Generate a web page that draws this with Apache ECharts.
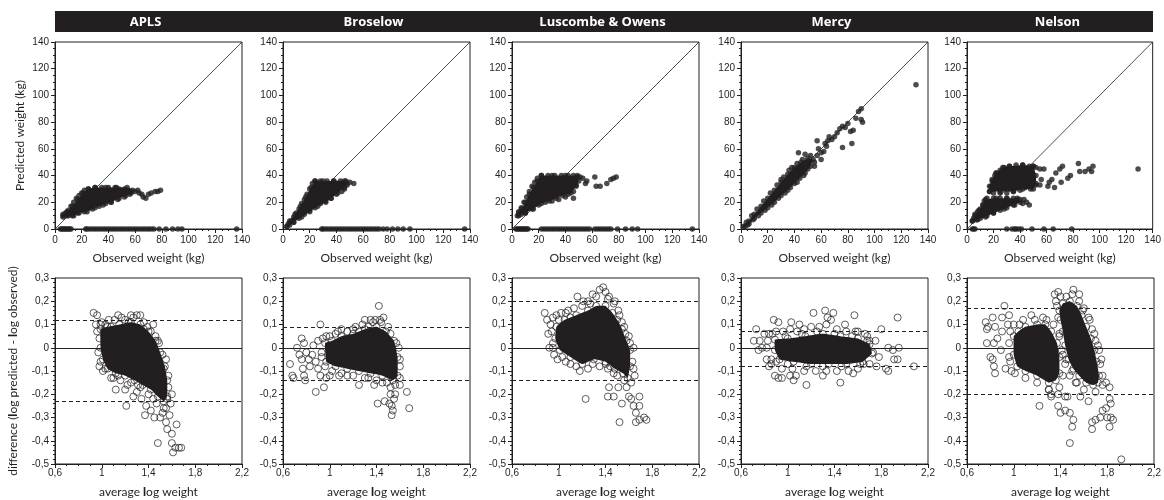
<!DOCTYPE html>
<html>
<head>
<meta charset="utf-8">
<title>Weight estimation methods</title>
<script src="https://cdn.jsdelivr.net/npm/echarts@6/dist/echarts.min.js"></script>
<style>
  html, body { margin: 0; padding: 0; background: #fff; }
  #chart { width: 1164px; height: 500px; }
</style>
</head>
<body>
<div id="chart"></div>
<script>
// panel headers
const methods = ['APLS', 'Broselow', 'Luscombe & Owens', 'Mercy', 'Nelson'];
const identityLine = [[0, 0], [140, 140]];

// ---- APLS ----
const aplsTop = [[6,10],[8,12],[10,14],[12,17],[14,20],[16,23],[18,25],[20,27],[22,29],[25,30],[30,31],[35,31],[40,31],[45,31],[48,30],[52,30],[55,29],[57,28],[60,28],[62,29],[63,27],[65,26],[66,24],[68,23],[70,26],[72,27],[75,28],[77,28],[79,29],[56,26],[52,24],[47,22],[42,20],[38,19],[33,17],[28,15],[22,13],[17,12],[13,10],[9,10]];
const aplsTopZero = [4,5,6,7,8,9,10,11,12,23,24,26,28,30,32,34,36,38,40,42,44,46,48,50,52,54,56,58,60,62,64,66,68,70,72,74,78,83,88,92,95,136];
const aplsTopCore = [[6,9],[10,10],[14,10],[18,12],[24,13],[30,16],[36,18],[42,20],[48,23],[53,25],[57,27],[58,29],[54,31],[46,31],[38,31],[30,31],[25,30],[21,27],[17,22],[13,17],[9,13],[6,11]];
const aplsBot = [[0.93,0.15],[0.96,0.14],[0.95,0.1],[0.96,0.07],[0.99,0.1],[1.03,0.1],[1.08,0.09],[1.14,0.14],[1.2,0.12],[1.27,0.13],[1.3,0.14],[1.33,0.14],[1.36,0.11],[1.39,0.09],[1.42,0.07],[1.46,0.05],[1.49,0.02],[1.52,-0.03],[0.97,-0.02],[0.99,-0.06],[1.03,-0.09],[1.08,-0.13],[1.14,-0.12],[1.2,-0.18],[1.22,-0.16],[1.21,-0.25],[1.3,-0.19],[1.33,-0.17],[1.38,-0.25],[1.37,-0.29],[1.42,-0.27],[1.45,-0.3],[1.48,-0.41],[1.5,-0.3],[1.52,-0.28],[1.55,-0.32],[1.56,-0.35],[1.59,-0.24],[1.6,-0.37],[1.6,-0.41],[1.61,-0.45],[1.63,-0.43],[1.64,-0.33],[1.66,-0.43],[1.68,-0.43],[1.58,-0.29],[1.53,-0.26],[1.47,-0.24],[1.56,-0.22],[1.57,-0.12],[1.55,-0.05],
  [0.98,0.04],[1.0,0.11],[1.06,0.12],[1.11,0.12],[1.17,0.13],[1.23,0.11],[1.25,0.14],[1.36,0.08],[1.44,0.1],[1.48,0.03],[1.53,-0.09],[1.57,-0.17],[1.6,-0.2],[1.55,-0.26],[1.44,-0.22],[1.4,-0.2],[1.31,-0.16],[1.25,-0.15],[1.16,-0.14],[1.1,-0.13],[1.01,-0.1],[0.98,-0.08],[1.12,-0.18],[1.27,-0.21],[1.34,-0.22]];
const aplsBotCore = [[0.99,0.08],[1.05,0.09],[1.15,0.1],[1.25,0.11],[1.33,0.1],[1.4,0.07],[1.46,0.03],[1.5,-0.02],[1.54,-0.08],[1.56,-0.14],[1.56,-0.21],[1.53,-0.23],[1.48,-0.21],[1.42,-0.18],[1.35,-0.16],[1.28,-0.14],[1.2,-0.12],[1.12,-0.11],[1.05,-0.09],[1.01,-0.05],[0.99,0.0]];
const aplsLimits = [0.12, -0.23];

// ---- Broselow ----
const broselowTop = [[3,2],[4,4],[6,6],[8,9],[10,12],[12,15],[14,19],[16,22],[18,26],[20,30],[22,34],[24,36],[28,36],[33,36],[38,36],[43,36],[47,36],[50,35],[53,34],[48,33],[46,30],[44,28],[40,26],[36,23],[32,21],[28,19],[24,16],[20,14],[16,11],[12,8],[8,5],[5,3]];
const broselowTopZero = [29,30,32,34,36,38,40,42,44,46,48,50,52,54,56,58,60,62,64,66,68,70,72,75,78,82,86,90,95,136];
const broselowTopCore = [[3,2],[8,5],[14,9],[20,13],[26,17],[32,20],[36,23],[41,27],[46,31],[48,34],[46,36],[38,36],[30,36],[24,36],[21,31],[17,24],[13,17],[9,11],[5,6]];
const broselowBot = [[0.66,-0.07],[0.68,-0.12],[0.69,-0.13],[0.72,0.0],[0.74,-0.03],[0.76,-0.05],[0.77,-0.09],[0.78,-0.12],[0.79,-0.14],[0.76,0.04],[0.78,0.02],[0.8,-0.02],[0.82,-0.05],[0.83,-0.08],[0.85,-0.03],[0.86,0.01],[0.88,-0.19],[0.95,-0.17],[0.92,0.1],[0.9,0.03],[0.92,-0.12],[0.9,-0.09],[0.88,-0.06],[0.93,-0.02],[0.97,0.05],[1.0,-0.12],[1.05,0.06],[1.1,0.08],[1.2,0.08],[1.25,0.07],[1.3,0.12],[1.33,0.09],[1.37,0.11],[1.39,0.12],[1.42,0.18],[1.46,0.13],[1.44,0.11],[1.5,0.09],[1.25,-0.16],[1.15,-0.12],[1.33,-0.13],[1.41,-0.24],[1.47,-0.23],[1.52,-0.2],[1.51,-0.24],[1.53,-0.25],[1.53,-0.29],[1.54,-0.27],[1.55,-0.22],[1.56,-0.2],[1.68,-0.26],[1.66,-0.19],[1.6,-0.16],[1.6,-0.08],[1.59,0.0],[1.45,-0.15],
  [0.94,0.04],[1.0,0.05],[1.07,0.07],[1.15,0.07],[1.22,0.09],[1.28,0.1],[1.35,0.12],[1.43,0.12],[1.52,0.06],[1.57,0.02],[1.6,-0.05],[1.6,-0.13],[1.56,-0.16],[1.49,-0.15],[1.4,-0.14],[1.3,-0.13],[1.2,-0.12],[1.1,-0.11],[1.02,-0.1],[0.96,-0.08],[0.93,-0.04],[0.97,-0.13],[1.08,-0.12],[1.38,-0.16],[1.52,-0.17]];
const broselowBotCore = [[0.96,0.02],[1.02,0.03],[1.1,0.05],[1.2,0.06],[1.3,0.08],[1.4,0.09],[1.48,0.07],[1.55,0.03],[1.58,-0.04],[1.58,-0.12],[1.54,-0.14],[1.45,-0.12],[1.35,-0.11],[1.25,-0.1],[1.15,-0.09],[1.05,-0.08],[0.97,-0.06]];
const broselowLimits = [0.085, -0.135];

// ---- Luscombe & Owens ----
const luscombeTop = [[4,10],[5,13],[7,16],[9,20],[11,24],[13,28],[15,32],[17,35],[19,38],[22,40],[27,40],[32,40],[37,40],[42,40],[46,40],[49,39],[51,39],[53,38],[56,36],[55,34],[62,39],[63,32],[66,32],[71,34],[74,37],[76,38],[78,39],[48,33],[46,28],[46,23],[42,26],[40,24],[35,22],[30,21],[25,20],[20,18],[15,15],[10,12],[7,11]];
const luscombeTopZero = [3,4,5,6,7,8,9,10,11,12,22,24,26,28,30,32,34,36,38,40,42,44,46,48,50,52,54,56,58,62,64,66,68,70,72,74,79,85,90,94,135];
const luscombeTopCore = [[5,10],[10,12],[16,15],[22,19],[28,21],[33,23],[38,25],[44,27],[48,32],[50,36],[49,40],[40,40],[30,40],[22,40],[19,36],[16,31],[13,26],[10,20],[7,15],[5,12]];
const luscombeBot = [[0.88,0.15],[0.9,0.12],[0.91,0.06],[0.93,0.1],[0.95,0.02],[0.96,-0.03],[0.92,0.0],[0.98,0.14],[1.0,0.12],[1.03,-0.04],[1.06,0.15],[1.1,0.13],[1.16,0.22],[1.21,0.2],[1.27,0.19],[1.29,0.23],[1.35,0.25],[1.38,0.26],[1.4,0.24],[1.43,0.22],[1.47,0.19],[1.51,0.16],[1.54,0.11],[1.57,0.06],[1.61,0.02],[1.18,-0.1],[1.1,-0.07],[1.29,-0.07],[1.4,-0.07],[1.44,-0.08],[1.47,-0.11],[1.23,-0.22],[1.43,-0.17],[1.42,-0.21],[1.47,-0.21],[1.51,-0.17],[1.54,-0.24],[1.52,-0.32],[1.58,-0.17],[1.6,-0.21],[1.62,-0.22],[1.64,-0.25],[1.69,-0.21],[1.66,-0.28],[1.69,-0.25],[1.66,-0.32],[1.69,-0.31],[1.73,-0.3],[1.75,-0.31],[1.65,-0.12],[1.63,-0.06],
  [0.95,0.13],[1.02,0.15],[1.08,0.16],[1.13,0.17],[1.2,0.18],[1.25,0.2],[1.32,0.22],[1.42,0.21],[1.48,0.2],[1.52,0.14],[1.56,0.09],[1.6,0.05],[1.64,0.0],[1.64,-0.09],[1.62,-0.15],[1.56,-0.14],[1.5,-0.12],[1.42,-0.09],[1.35,-0.08],[1.25,-0.09],[1.15,-0.08],[1.06,-0.06],[0.99,-0.05],[0.95,0.0],[0.94,0.07]];
const luscombeBotCore = [[0.98,0.09],[1.05,0.12],[1.15,0.14],[1.25,0.16],[1.32,0.18],[1.4,0.18],[1.46,0.15],[1.5,0.12],[1.54,0.08],[1.58,0.03],[1.61,-0.01],[1.61,-0.08],[1.59,-0.13],[1.55,-0.11],[1.48,-0.09],[1.4,-0.06],[1.3,-0.05],[1.2,-0.07],[1.1,-0.04],[1.01,-0.01],[0.97,0.04]];
const luscombeLimits = [0.2, -0.14];

// ---- Mercy ----
const mercyTop = [[2,2],[4,5],[5,3],[8,10],[9,7],[12,15],[13,10],[17,21],[18,14],[22,27],[23,18],[27,33],[28,23],[32,39],[33,27],[36,44],[37,31],[42,49],[42,35],[43,57],[46,52],[47,40],[48,56],[50,45],[52,55],[55,50],[55,47],[57,55],[58,60],[60,57],[62,58],[63,64],[65,66],[66,69],[68,67],[70,69],[72,72],[74,75],[76,77],[76,61],[78,76],[80,79],[82,73],[84,74],[83,64],[86,83],[88,88],[90,90],[90,82],[91,80],[131,108],[60,52],[64,62],[57,66],[45,44],[38,46],[30,37]];
const mercyTopCore = [[3,2],[6,6],[10,11],[15,17],[20,23],[25,29],[30,35],[35,41],[40,46],[45,50],[50,53],[54,52],[52,47],[48,42],[44,38],[40,34],[35,29],[30,25],[25,20],[20,16],[15,12],[10,8],[6,4]];
const mercyBot = [[0.71,0.03],[0.73,0.08],[0.76,0.03],[0.75,-0.01],[0.8,0.06],[0.78,0.0],[0.82,-0.05],[0.84,-0.08],[0.88,0.12],[0.92,0.11],[0.89,-0.12],[0.92,-0.13],[0.95,-0.13],[1.02,-0.12],[1.05,-0.14],[1.07,-0.12],[1.16,-0.16],[1.03,0.11],[1.1,0.1],[1.22,0.15],[1.32,0.16],[1.39,0.15],[1.34,0.13],[1.37,0.12],[1.49,0.1],[1.57,0.14],[1.45,-0.15],[1.56,-0.11],[1.3,-0.12],[1.6,0.07],[1.7,0.03],[1.73,-0.02],[1.76,-0.08],[1.8,0.08],[1.84,-0.09],[1.86,-0.1],[1.86,0.0],[1.9,-0.01],[1.91,-0.05],[1.94,0.13],[1.95,0.0],[1.94,-0.05],[2.08,-0.08],[1.65,-0.07],[1.68,0.05],[0.87,0.06],[0.86,-0.07],
  [0.84,0.06],[0.9,0.07],[0.96,0.07],[1.02,0.08],[1.08,0.07],[1.14,0.08],[1.2,0.09],[1.27,0.09],[1.33,0.1],[1.42,0.08],[1.5,0.07],[1.58,0.07],[1.66,0.06],[1.75,0.03],[1.78,-0.04],[1.7,-0.07],[1.6,-0.09],[1.52,-0.1],[1.42,-0.1],[1.33,-0.1],[1.24,-0.1],[1.14,-0.1],[1.04,-0.09],[0.95,-0.09],[0.86,-0.05],[0.82,0.0],[0.83,0.03],
  [0.98,0.05],[1.12,0.06],[1.25,0.07],[1.4,0.06],[1.55,0.05],[1.68,0.03],[1.62,-0.07],[1.46,-0.08],[1.3,-0.08],[1.16,-0.08],[1.0,-0.07],[0.9,-0.06]];
const mercyBotCore = [[0.89,0.035],[1.0,0.04],[1.15,0.05],[1.3,0.06],[1.45,0.05],[1.6,0.04],[1.7,0.015],[1.72,-0.025],[1.64,-0.06],[1.5,-0.07],[1.35,-0.07],[1.2,-0.07],[1.05,-0.06],[0.93,-0.05],[0.89,-0.01]];
const mercyLimits = [0.07, -0.08];

// ---- Nelson ----
const nelsonTop = [[4,6],[5,8],[6,11],[8,13],[10,15],[12,18],[13,21],[15,23],[20,23],[25,23],[30,23],[35,23],[38,22],[40,22],[43,22],[45,20],[47,18],[42,19],[36,18],[30,16],[25,14],[20,12],[15,10],[10,8],[7,7],[17,28],[18,32],[19,36],[21,40],[22,42],[25,44],[28,46],[32,47],[37,48],[42,48],[47,47],[50,47],[52,46],[55,45],[56,37],[52,33],[48,30],[44,31],[40,29],[35,28],[30,27],[25,27],[20,27],[55,33],[58,45],[61,32],[62,35],[64,37],[66,31],[67,42],[70,45],[71,35],[72,47],[76,38],[78,40],[84,49],[85,43],[89,43],[92,45],[94,43],[95,47],[129,45]];
const nelsonTopZero = [4,5,6,30,34,36,37,39,41,49,58,65,79];
const nelsonTopCoreLow = [[4,6],[8,7],[14,9],[20,12],[28,15],[35,18],[40,20],[38,23],[30,23],[22,23],[14,22],[12,18],[9,14],[6,10]];
const nelsonTopCoreHigh = [[17,28],[25,28],[35,28],[42,30],[50,30],[52,34],[52,40],[50,47],[42,48],[32,47],[27,46],[22,42],[19,37],[17,32]];
const nelsonBot = [[0.76,0.11],[0.78,0.09],[0.77,0.08],[0.82,0.13],[0.84,0.09],[0.77,0.02],[0.83,0.02],[0.8,-0.04],[0.82,-0.05],[0.83,-0.08],[0.84,-0.11],[0.92,0.18],[0.9,0.13],[0.96,0.14],[0.93,-0.09],[0.98,-0.1],[0.86,0.04],[0.89,-0.01],[0.9,0.07],[0.95,0.1],[0.97,-0.06],[1.15,0.14],[1.05,0.1],[1.25,0.13],[1.22,-0.25],[1.3,-0.18],[1.32,-0.2],[1.38,-0.2],[1.44,-0.21],[1.46,-0.21],[1.38,-0.25],[1.4,-0.28],[1.44,-0.27],[1.48,-0.28],[1.51,-0.31],[1.5,-0.34],[1.48,-0.41],[1.32,-0.21],[1.35,0.23],[1.38,0.24],[1.45,0.22],[1.51,0.25],[1.56,0.23],[1.56,0.2],[1.59,0.16],[1.64,0.13],[1.67,0.08],[1.7,0.03],[1.73,-0.01],[1.74,-0.07],[1.76,-0.12],[1.79,-0.15],[1.82,-0.17],[1.82,-0.22],[1.38,0.13],[1.37,0.18],[1.57,-0.21],[1.64,-0.23],[1.67,-0.32],[1.67,-0.35],[1.7,-0.31],[1.74,-0.3],[1.8,-0.3],[1.83,-0.3],[1.85,-0.31],[1.82,-0.34],[1.76,-0.27],[1.79,-0.26],[1.83,-0.24],[1.92,-0.48],[1.53,-0.15],[1.5,-0.1],[1.45,-0.05],
  [0.97,0.07],[1.0,0.1],[1.08,0.12],[1.18,0.12],[1.28,0.12],[1.34,0.1],[1.39,0.05],[1.42,-0.03],[1.42,-0.12],[1.39,-0.17],[1.3,-0.18],[1.2,-0.15],[1.1,-0.13],[1.01,-0.11],[0.96,-0.04],[0.96,0.02],[1.36,0.2],[1.4,0.22],[1.5,0.23],[1.6,0.17],[1.65,0.12],[1.69,0.06],[1.72,0.01],[1.75,-0.05],[1.76,-0.16],[1.7,-0.19],[1.6,-0.18],[1.54,-0.15],[1.48,-0.12],[1.44,-0.07],[1.41,-0.01],[1.39,0.06]];
const nelsonBotCoreLeft = [[1.0,0.05],[1.04,0.07],[1.1,0.09],[1.2,0.1],[1.27,0.1],[1.32,0.07],[1.37,0.02],[1.39,-0.04],[1.39,-0.11],[1.36,-0.14],[1.3,-0.15],[1.2,-0.12],[1.1,-0.1],[1.03,-0.08],[1.0,-0.03]];
const nelsonBotCoreRight = [[1.39,0.16],[1.42,0.19],[1.48,0.2],[1.54,0.18],[1.58,0.14],[1.62,0.09],[1.66,0.04],[1.69,-0.01],[1.71,-0.06],[1.73,-0.12],[1.72,-0.15],[1.68,-0.16],[1.62,-0.15],[1.56,-0.12],[1.51,-0.09],[1.47,-0.05],[1.44,0.01],[1.42,0.07],[1.4,0.12]];
const nelsonLimits = [0.17, -0.2];

const panels = [
  { top: aplsTop, zero: aplsTopZero, topCores: [aplsTopCore], bot: aplsBot, botCores: [aplsBotCore], limits: aplsLimits },
  { top: broselowTop, zero: broselowTopZero, topCores: [broselowTopCore], bot: broselowBot, botCores: [broselowBotCore], limits: broselowLimits },
  { top: luscombeTop, zero: luscombeTopZero, topCores: [luscombeTopCore], bot: luscombeBot, botCores: [luscombeBotCore], limits: luscombeLimits },
  { top: mercyTop, zero: [], topCores: [mercyTopCore], bot: mercyBot, botCores: [mercyBotCore], limits: mercyLimits },
  { top: nelsonTop, zero: nelsonTopZero, topCores: [nelsonTopCoreLow, nelsonTopCoreHigh], bot: nelsonBot, botCores: [nelsonBotCoreLeft, nelsonBotCoreRight], limits: nelsonLimits }
];

// layout
const ink = '#231f20';
const colLeft = [55, 283, 512, 741, 967];
const colWidth = 187;
const topRow = { top: 42, height: 187 };
const botRow = { top: 278, height: 186 };

const commaFmt = v => String(Math.round(v * 10) / 10).replace('.', ',');
const tickFont = { color: ink, fontSize: 10, fontFamily: 'Liberation Sans' };
const nameFont = {
  color: ink, fontSize: 12, fontFamily: 'Lato',
  rich: { n: { fontSize: 12, fontFamily: 'Lato', color: ink }, b: { fontSize: 12, fontFamily: 'Lato', fontWeight: 900, color: ink } }
};

function axisBase(min, max, interval, minorSplit) {
  return {
    type: 'value', min, max, interval,
    axisLine: { show: true, onZero: false, lineStyle: { color: ink, width: 1 } },
    axisTick: { show: true, length: 4, lineStyle: { color: ink } },
    minorTick: { show: true, splitNumber: minorSplit, length: 2, lineStyle: { color: ink } },
    splitLine: { show: false },
    minorSplitLine: { show: false }
  };
}

function coreSeries(axis, core) {
  return {
    type: 'custom', xAxisIndex: axis, yAxisIndex: axis, data: core, encode: { x: 0, y: 1 },
    silent: true, z: 2,
    renderItem: (params, api) => {
      if (params.dataIndex !== 0) return null;
      return { type: 'polygon', shape: { points: core.map(p => api.coord(p)), smooth: 0.1 }, style: { fill: ink } };
    }
  };
}

const grids = [], xAxes = [], yAxes = [], series = [];

panels.forEach((p, i) => {
  grids.push({ left: colLeft[i], width: colWidth, top: topRow.top, height: topRow.height, show: true, borderColor: ink, borderWidth: 1, backgroundColor: 'transparent' });
  xAxes.push(Object.assign(axisBase(0, 140, 20, 4), {
    gridIndex: i, name: 'Observed weight (kg)', nameLocation: 'middle', nameGap: 23, nameTextStyle: nameFont,
    axisLabel: Object.assign({ margin: 6 }, tickFont)
  }));
  yAxes.push(Object.assign(axisBase(0, 140, 20, 4), {
    gridIndex: i, name: i === 0 ? 'Predicted weight (kg)' : '', nameLocation: 'middle', nameGap: 29, nameTextStyle: nameFont,
    axisLabel: Object.assign({ margin: 6 }, tickFont)
  }));

  series.push({ type: 'line', xAxisIndex: i, yAxisIndex: i, data: identityLine, symbol: 'none', silent: true, z: 1, lineStyle: { color: ink, width: 0.8 } });
  p.topCores.forEach(c => series.push(coreSeries(i, c)));
  const zeros = p.zero.map(x => [x, 0]);
  series.push({
    type: 'scatter', xAxisIndex: i, yAxisIndex: i, z: 3, symbolSize: 5.5, silent: true,
    data: p.top.concat(zeros, ...p.topCores), itemStyle: { color: ink }
  });
});

panels.forEach((p, i) => {
  const k = i + 5;
  grids.push({ left: colLeft[i], width: colWidth, top: botRow.top, height: botRow.height, show: true, borderColor: ink, borderWidth: 1, backgroundColor: 'transparent' });
  xAxes.push(Object.assign(axisBase(0.6, 2.2, 0.4, 4), {
    gridIndex: k, name: '{n|average }{b|l}{n|og weight}', nameLocation: 'middle', nameGap: 22, nameTextStyle: nameFont,
    axisLabel: Object.assign({ margin: 4, formatter: commaFmt }, tickFont)
  }));
  yAxes.push(Object.assign(axisBase(-0.5, 0.3, 0.1, 5), {
    gridIndex: k,
    name: i === 0 ? '{n|difference (}{b|l}{n|og predicted - }{b|l}{n|og observed)}' : '',
    nameLocation: 'middle', nameGap: 36, nameTextStyle: nameFont,
    axisLabel: Object.assign({ margin: 6, formatter: commaFmt }, tickFont)
  }));
  p.botCores.forEach(c => series.push(coreSeries(k, c)));
  series.push({
    type: 'scatter', xAxisIndex: k, yAxisIndex: k, z: 3, symbolSize: 7, silent: true,
    data: p.bot.concat(...p.botCores),
    itemStyle: { color: 'rgba(0,0,0,0)', borderColor: ink, borderWidth: 0.9 },
    markLine: {
      silent: true, symbol: 'none', label: { show: false },
      lineStyle: { color: ink, width: 1 },
      data: [
        { yAxis: 0, lineStyle: { type: 'solid' } },
        { yAxis: p.limits[0], lineStyle: { type: [4, 3] } },
        { yAxis: p.limits[1], lineStyle: { type: [4, 3] } }
      ]
    }
  });
});

// header band with method names
const graphic = [{ type: 'rect', shape: { x: 55, y: 11, width: 1098, height: 21 }, style: { fill: ink }, silent: true }];
methods.forEach((m, i) => {
  graphic.push({
    type: 'text', x: colLeft[i] + colWidth / 2 - 3, y: 22, silent: true,
    style: { text: m, fill: '#fff', font: 'bold 13px "Open Sans"', textAlign: 'center', textVerticalAlign: 'middle', align: 'center', verticalAlign: 'middle' }
  });
});

const chart = echarts.init(document.getElementById('chart'), null, { renderer: 'canvas' });
chart.setOption({
  animation: false,
  backgroundColor: '#fff',
  grid: grids,
  xAxis: xAxes,
  yAxis: yAxes,
  series: series,
  graphic: graphic
});
</script>
</body>
</html>
